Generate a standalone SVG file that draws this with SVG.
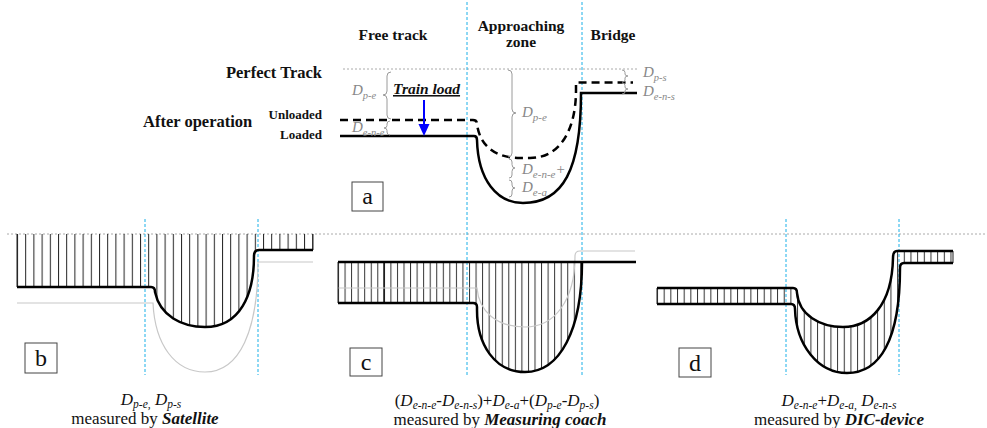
<svg xmlns="http://www.w3.org/2000/svg" width="987" height="428" viewBox="0 0 987 428">
<style>
text{font-family:"Liberation Serif","Times New Roman",serif;}
.hd{font-weight:bold;font-size:15.5px;fill:#111;}
.lab{font-weight:bold;fill:#111;}
.dl{font-style:italic;font-size:15px;fill:#888;}
.cap{font-size:17px;fill:#111;}
.bi{font-weight:bold;font-style:italic;}
.it{font-style:italic;}
.thick{fill:none;stroke:#000;stroke-width:2.5;}
.dash{fill:none;stroke:#000;stroke-width:2.5;stroke-dasharray:8 5;}
.thin{fill:none;stroke:#222;stroke-width:1;}
.ghost{fill:none;stroke:#c8c8c8;stroke-width:1.2;}
.brace{fill:none;stroke:#9a9a9a;stroke-width:1;}
.blue{stroke:#1ab0e8;stroke-width:1;stroke-dasharray:3 2;fill:none;}
.dot{stroke:#aaa;stroke-width:1;stroke-dasharray:2 2;fill:none;}
.box{fill:#fff;stroke:#444;stroke-width:1;}
.bl{font-size:24px;fill:#111;}
</style>
<defs>
<pattern id="hb" patternUnits="userSpaceOnUse" x="17" y="0" width="8.2" height="10"><rect x="0" y="0" width="1" height="10" fill="#222"/></pattern>
<pattern id="hc" patternUnits="userSpaceOnUse" x="338" y="0" width="6.55" height="10"><rect x="0" y="0" width="1" height="10" fill="#333"/></pattern>
<pattern id="hd" patternUnits="userSpaceOnUse" x="657" y="0" width="6.67" height="10"><rect x="0" y="0" width="1" height="10" fill="#333"/></pattern>
</defs>
<rect width="987" height="428" fill="#fff"/>

<g id="guides">
<line class="dot" x1="343" y1="69" x2="637" y2="69"/>
<line class="dot" x1="7" y1="234" x2="987" y2="234"/>
<line class="blue" x1="467" y1="2" x2="467" y2="375"/>
<line class="blue" x1="582" y1="2" x2="582" y2="375"/>
<line class="blue" x1="145" y1="219" x2="145" y2="375"/>
<line class="blue" x1="258" y1="219" x2="258" y2="375"/>
<line class="blue" x1="786" y1="219" x2="786" y2="375"/>
<line class="blue" x1="899" y1="219" x2="899" y2="375"/>
</g>

<g id="panel-a">
<text class="hd" x="393" y="40" text-anchor="middle">Free track</text>
<text class="hd" x="521" y="31" text-anchor="middle">Approaching</text>
<text class="hd" x="521" y="47" text-anchor="middle">zone</text>
<text class="hd" x="613" y="40" text-anchor="middle">Bridge</text>
<text class="lab" x="322" y="78" text-anchor="end" font-size="16.5">Perfect Track</text>
<text class="lab" x="143" y="127" font-size="16.5">After operation</text>
<text class="lab" x="322" y="119" text-anchor="end" font-size="13">Unloaded</text>
<text class="lab" x="322" y="139" text-anchor="end" font-size="13">Loaded</text>
<path class="dash" d="M 340 120 H 473 Q 477 120 477 124 C 480 148 498 158 520 158 H 530 C 560 158 576 130 576 90 V 82.5 H 633"/>
<path class="thick" d="M 340 136 H 474 Q 477 136 477 140 C 478 180 497 203 523 203 C 563 203 581 170 581 93 H 637"/>
<text class="bi" x="393" y="94" font-size="15.5" fill="#111" style="text-decoration:underline">Train load</text>
<line x1="424" y1="100" x2="424" y2="126" stroke="#0000ff" stroke-width="2"/>
<polygon points="418.5,124 429.5,124 424,136" fill="#0000ff"/>
<path class="brace" d="M 391 72 Q 387 72 387 76 V 91 Q 387 95 383 95 Q 387 95 387 99 V 115 Q 387 119 391 119"/>
<path class="brace" d="M 390 121 Q 387 121 387 124 V 125.5 Q 387 128 384 128 Q 387 128 387 130.5 V 132 Q 387 135 390 135"/>
<path class="brace" d="M 508 70 Q 512 70 512 74 V 109 Q 512 113 516 113 Q 512 113 512 117 V 153 Q 512 157 508 157"/>
<path class="brace" d="M 509 159 Q 512 159 512 162 V 164.5 Q 512 168 515 168 Q 512 168 512 171.5 V 175 Q 512 178 509 178"/>
<path class="brace" d="M 509 180 Q 512 180 512 183 V 185 Q 512 188 515 188 Q 512 188 512 191 V 194 Q 512 197 509 197"/>
<path class="brace" d="M 622 70 Q 625 70 625 72.5 V 74 Q 625 76 628 76 Q 625 76 625 78 V 80 Q 625 82 622 82"/>
<path class="brace" d="M 622 83 Q 625 83 625 85.5 V 87 Q 625 89 628 89 Q 625 89 625 91 V 92 Q 625 94 622 94"/>
<text class="dl" x="352" y="95">D<tspan font-size="10.5" dy="4">p-e</tspan></text>
<text class="dl" x="352" y="132">D<tspan font-size="10.5" dy="4">e-n-e</tspan></text>
<text class="dl" x="522" y="117" font-size="16">D<tspan font-size="11" dy="4">p-e</tspan></text>
<text class="dl" x="522" y="174" font-size="16">D<tspan font-size="11" dy="4">e-n-e</tspan><tspan dy="-4">+</tspan></text>
<text class="dl" x="522" y="192" font-size="16">D<tspan font-size="11" dy="4">e-a</tspan></text>
<text class="dl" x="643" y="77">D<tspan font-size="10.5" dy="4">p-s</tspan></text>
<text class="dl" x="643" y="96">D<tspan font-size="10.5" dy="4">e-n-s</tspan></text>
<rect class="box" x="352" y="182" width="31" height="29"/>
<text class="bl" x="367.5" y="204" text-anchor="middle" font-size="28">a</text>
</g>

<g id="panel-b">
<path d="M 17 234 H 313 V 250 H 259 Q 254 250 254 256 C 254 295 240 327 205 327 C 182 327 160 316 155 292 Q 155 287 151 287 H 17 Z" fill="url(#hb)"/>
<path class="ghost" d="M 17 303 H 153 C 155 345 175 372 205 372 C 240 372 258 330 258 262 H 313"/>
<path class="thin" d="M 17 234 V 287 M 313 234 V 250"/>
<path class="thick" d="M 17 287 H 151 Q 155 287 155 292 C 160 316 182 327 205 327 C 240 327 254 295 254 256 Q 254 250 259 250 H 313"/>
<rect class="box" x="25" y="343" width="32" height="30"/>
<text class="bl" x="41" y="366" text-anchor="middle" font-size="24">b</text>
<text class="cap it" x="151" y="405" text-anchor="middle">D<tspan font-size="11.5" dy="3">p-e,</tspan><tspan dy="-3"> D</tspan><tspan font-size="11.5" dy="3">p-s</tspan></text>
<text class="cap" x="145" y="424" text-anchor="middle">measured by <tspan class="bi">Satellite</tspan></text>
</g>

<g id="panel-c">
<path d="M 338 262 H 582 C 582 330 560 372 525 372 C 495 372 477 345 477 310 V 307 Q 477 303 473 303 H 338 Z" fill="url(#hc)"/>
<line x1="384" y1="262" x2="384" y2="303" stroke="#000" stroke-width="1.3"/>
<path class="ghost" d="M 338 288 H 477 C 479 312 497 327 525 327 C 555 327 575 300 575 256 Q 575 251 580 251 H 635"/>
<path class="thin" d="M 338 262 V 303"/>
<path class="thick" d="M 338 262 H 636"/>
<path class="thick" d="M 338 303 H 473 Q 477 303 477 307 V 310 C 477 345 495 372 525 372 C 560 372 582 330 582 262"/>
<rect class="box" x="350" y="348" width="32" height="28"/>
<text class="bl" x="366" y="370" text-anchor="middle" font-size="27">c</text>
<text class="cap" x="497" y="406" text-anchor="middle">(<tspan class="it">D</tspan><tspan class="it" font-size="11.5" dy="3">e-n-e</tspan><tspan dy="-3">-</tspan><tspan class="it">D</tspan><tspan class="it" font-size="11.5" dy="3">e-n-s</tspan><tspan dy="-3">)+</tspan><tspan class="it">D</tspan><tspan class="it" font-size="11.5" dy="3">e-a</tspan><tspan dy="-3">+(</tspan><tspan class="it">D</tspan><tspan class="it" font-size="11.5" dy="3">p-e</tspan><tspan dy="-3">-</tspan><tspan class="it">D</tspan><tspan class="it" font-size="11.5" dy="3">p-s</tspan><tspan dy="-3">)</tspan></text>
<text class="cap" x="500" y="425" text-anchor="middle">measured by <tspan class="bi">Measuring coach</tspan></text>
</g>

<g id="panel-d">
<path d="M 657 288 H 793 Q 797 288 797 293 C 799 315 820 327 843 327 C 870 327 892 305 893 258 Q 893 251 897 251 H 953 V 263 H 904 Q 900 263 900 268 C 900 340 880 373 847 373 C 818 373 796 345 795 309 Q 795 304 791 304 H 657 Z" fill="url(#hd)"/>
<path class="thin" d="M 657 288 V 304 M 953 251 V 263"/>
<path class="thick" d="M 657 288 H 793 Q 797 288 797 293 C 799 315 820 327 843 327 C 870 327 892 305 893 258 Q 893 251 897 251 H 953"/>
<path class="thick" d="M 657 304 H 791 Q 795 304 795 309 C 796 345 818 373 847 373 C 880 373 900 340 900 268 Q 900 263 904 263 H 953"/>
<rect class="box" x="679" y="348" width="32" height="29"/>
<text class="bl" x="695" y="371" text-anchor="middle" font-size="24">d</text>
<text class="cap it" x="839" y="406" text-anchor="middle">D<tspan font-size="11.5" dy="3">e-n-e</tspan><tspan dy="-3" font-style="normal">+</tspan>D<tspan font-size="11.5" dy="3">e-a,</tspan><tspan dy="-3"> D</tspan><tspan font-size="11.5" dy="3">e-n-s</tspan></text>
<text class="cap" x="839" y="425" text-anchor="middle">measured by <tspan class="bi">DIC-device</tspan></text>
</g>
</svg>
